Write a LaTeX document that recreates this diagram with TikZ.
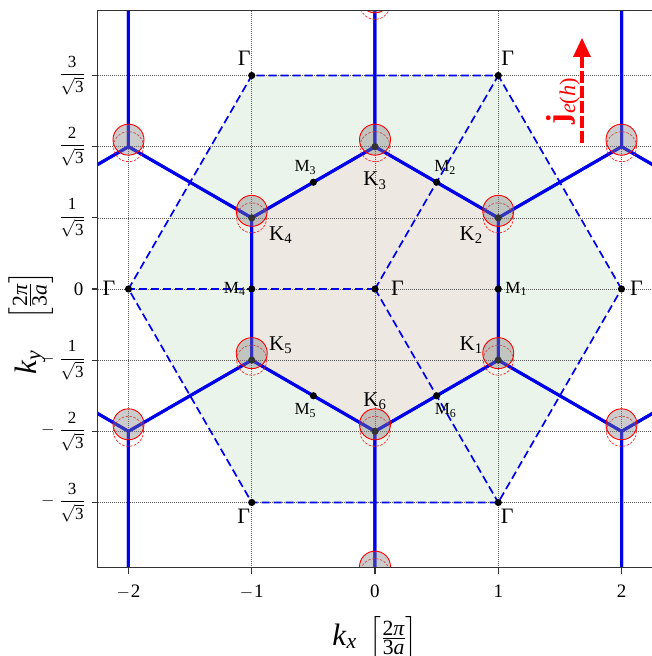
\documentclass[tikz,border=0pt]{standalone}
\usepackage{fontspec}
\setmainfont{Liberation Serif}
\usepackage{amsmath}
\usetikzlibrary{arrows.meta}
\definecolor{bzblue}{RGB}{0,0,235}
\definecolor{bzgreen}{RGB}{235,244,235}
\definecolor{bzbeige}{RGB}{237,232,226}
\begin{document}
\begin{tikzpicture}[x=123.25pt,y=123.25pt,
  honey/.style={bzblue, line width=3pt, line join=round},
  bzdash/.style={bzblue, line width=1.7pt, dash pattern=on 8pt off 4pt},
  gridl/.style={black!65, line width=0.5pt, dash pattern=on 1pt off 1pt},
  spine/.style={black!80, line width=1.2pt},
  pdot/.style={black},
  glab/.style={font=\fontsize{22}{24}\selectfont, inner sep=0pt},
  klab/.style={font=\fontsize{21}{24}\selectfont, inner sep=0pt},
  mlab/.style={font=\fontsize{17}{20}\selectfont, inner sep=0pt},
  tlab/.style={font=\fontsize{19}{22}\selectfont, inner sep=0pt},
  ylab/.style={font=\fontsize{17}{20}\selectfont, inner sep=0pt, anchor=east},
  axlab/.style={font=\fontsize{31}{34}\selectfont, inner sep=0pt},
  kcirc/.style={draw=red, line width=0.9pt, fill=black!50, fill opacity=0.4},
  kdash/.style={draw=red!85, line width=0.7pt, dash pattern=on 2.5pt off 1.5pt},
]
\def\s{1.7320508}
\def\r{0.5773503}
\useasboundingbox (-375pt,-367pt) rectangle (277pt,289pt);
% named points
\coordinate (G0) at (0,0);
\coordinate (G1) at (2,0);
\coordinate (G2) at (1,\s);
\coordinate (G3) at (-1,\s);
\coordinate (G4) at (-2,0);
\coordinate (G5) at (-1,-\s);
\coordinate (G6) at (1,-\s);
\coordinate (K1) at (1,-\r);
\coordinate (K2) at (1,\r);
\coordinate (K3) at (0,2*\r);
\coordinate (K4) at (-1,\r);
\coordinate (K5) at (-1,-\r);
\coordinate (K6) at (0,-2*\r);
\coordinate (KA) at (2,2*\r);
\coordinate (KB) at (0,4*\r);
\coordinate (KC) at (-2,2*\r);
\coordinate (KD) at (-2,-2*\r);
\coordinate (KE) at (0,-4*\r);
\coordinate (KF) at (2,-2*\r);
\coordinate (M1) at (1,0);
\coordinate (M2) at (0.5,\s/2);
\coordinate (M3) at (-0.5,\s/2);
\coordinate (M4) at (-1,0);
\coordinate (M5) at (-0.5,-\s/2);
\coordinate (M6) at (0.5,-\s/2);
\begin{scope}
\clip (-2.25,-2.26) rectangle (2.255,2.26);
\fill[bzgreen] (G1) -- (G2) -- (G3) -- (G4) -- (G5) -- (G6) -- cycle;
\fill[bzbeige] (K1) -- (K2) -- (K3) -- (K4) -- (K5) -- (K6) -- cycle;
\foreach \gx in {-2,...,2} \draw[gridl] (\gx,-2.26) -- (\gx,2.26);
\foreach \gy in {-3,...,3} \draw[gridl] (-2.25,\gy*\r) -- (2.255,\gy*\r);
\draw[bzdash] (G1) -- (G2) -- (G3) -- (G4) -- (G5) -- (G6) -- cycle;
\draw[bzdash] (G0) -- (G4);
\draw[bzdash] (G0) -- (G2);
\draw[bzdash] (G0) -- (G6);
\foreach \cx/\cy in {0/0, 2/0, -2/0, 4/0, -4/0, 1/1, -1/1, 3/1, -3/1, 1/-1, -1/-1, 3/-1, -3/-1, 0/2, 2/2, -2/2, 0/-2, 2/-2, -2/-2} {
  \draw[honey] ({\cx+1},{\cy*\s+\r}) -- (\cx,{\cy*\s+2*\r}) -- ({\cx-1},{\cy*\s+\r}) -- ({\cx-1},{\cy*\s-\r}) -- (\cx,{\cy*\s-2*\r}) -- ({\cx+1},{\cy*\s-\r}) -- cycle;
}
\foreach \p in {G0,G1,G2,G3,G4,G5,G6,K1,K2,K3,K4,K5,K6,M1,M2,M3,M4,M5,M6}
  \fill[pdot] (\p) circle[radius=3.6pt];
\foreach \k in {K1,K2,K3,K4,K5,K6,KA,KB,KC,KD,KE,KF} {
  \draw[kdash] (\k) circle[radius=15pt];
  \filldraw[kcirc] ([yshift=7pt]\k) circle[radius=15.5pt];
}
\end{scope}
% spines and ticks
\draw[spine] (2.255,2.26) -- (-2.25,2.26) -- (-2.25,-2.26) -- (2.255,-2.26) -- cycle;
\foreach \gx in {-2,...,2} \draw[spine] (\gx,-2.26) -- ++(0,-6pt);
\foreach \gy in {-3,...,3} \draw[spine] (-2.25,\gy*\r) -- ++(-6pt,0);
% x tick labels
\node[tlab,anchor=north] (xt1) at ([yshift=-17.5pt]-2,-2.26) {\(-\)\kern1pt 2};
\node[tlab,anchor=north] (xt2) at ([yshift=-17.5pt]-1,-2.26) {\(-\)\kern1pt 1};
\node[tlab,anchor=north] (xt3) at ([yshift=-17.5pt]0,-2.26) {0};
\node[tlab,anchor=north] (xt4) at ([yshift=-17.5pt]1,-2.26) {1};
\node[tlab,anchor=north] (xt5) at ([yshift=-17.5pt]2,-2.26) {2};
% y tick labels
\node[ylab] (yt1) at ([xshift=-12.7pt]-2.25,3*\r) {\(\dfrac{\text{3}}{\sqrt{\text{3}}}\)};
\node[ylab] (yt2) at ([xshift=-12.7pt]-2.25,2*\r) {\(\dfrac{\text{2}}{\sqrt{\text{3}}}\)};
\node[ylab] (yt3) at ([xshift=-12.7pt]-2.25,\r) {\(\dfrac{\text{1}}{\sqrt{\text{3}}}\)};
\node[ylab,font=\fontsize{19}{22}\selectfont] (yt4) at ([xshift=-14pt]-2.25,0) {0};
\node[ylab] (yt5) at ([xshift=-12.7pt]-2.25,-\r) {\(-\;\dfrac{\text{1}}{\sqrt{\text{3}}}\)};
\node[ylab] (yt6) at ([xshift=-12.7pt]-2.25,-2*\r) {\(-\;\dfrac{\text{2}}{\sqrt{\text{3}}}\)};
\node[ylab] (yt7) at ([xshift=-12.7pt]-2.25,-3*\r) {\(-\;\dfrac{\text{3}}{\sqrt{\text{3}}}\)};
% axis labels
\node[axlab,anchor=base] (xl) at (0pt,-356pt) {\textit{k}\textsubscript{\textit{x}}\,\ \(\left[\frac{\text{2\textit{π}}}{\text{3\textit{a}}}\right]\)};
\node[axlab,anchor=base,rotate=90] (yl) at (-338pt,-34pt) {\textit{k}\textsubscript{\textit{y}}\quad\(\left[\frac{\text{2\textit{π}}}{\text{3\textit{a}}}\right]\)};
% Gamma labels
\node[glab] (lG3) at ([shift={(-7.5pt,17pt)}]G3) {Γ};
\node[glab] (lG2) at ([shift={(9.5pt,17pt)}]G2) {Γ};
\node[glab] (lG4) at ([shift={(-19.5pt,1pt)}]G4) {Γ};
\node[glab] (lG0) at ([shift={(22.5pt,1pt)}]G0) {Γ};
\node[glab] (lG1) at ([shift={(15pt,1pt)}]G1) {Γ};
\node[glab] (lG5) at ([shift={(-8pt,-14pt)}]G5) {Γ};
\node[glab] (lG6) at ([shift={(9pt,-14pt)}]G6) {Γ};
% K labels
\node[klab] (lK3) at ([shift={(0pt,-34pt)}]K3) {K\textsubscript{3}};
\node[klab] (lK4) at ([shift={(29pt,-17pt)}]K4) {K\textsubscript{4}};
\node[klab] (lK2) at ([shift={(-27pt,-17pt)}]K2) {K\textsubscript{2}};
\node[klab] (lK5) at ([shift={(29pt,15pt)}]K5) {K\textsubscript{5}};
\node[klab] (lK1) at ([shift={(-27pt,15pt)}]K1) {K\textsubscript{1}};
\node[klab] (lK6) at ([shift={(0pt,30pt)}]K6) {K\textsubscript{6}};
% M labels
\node[mlab] (lM3) at ([shift={(-8pt,15pt)}]M3) {M\textsubscript{3}};
\node[mlab] (lM2) at ([shift={(8.5pt,15pt)}]M2) {M\textsubscript{2}};
\node[mlab] (lM4) at ([shift={(-17pt,0pt)}]M4) {M\textsubscript{4}};
\node[mlab] (lM1) at ([shift={(18pt,0pt)}]M1) {M\textsubscript{1}};
\node[mlab] (lM5) at ([shift={(-8pt,-15pt)}]M5) {M\textsubscript{5}};
\node[mlab] (lM6) at ([shift={(9pt,-15pt)}]M6) {M\textsubscript{6}};
% current arrow
\coordinate (ja) at (207pt,146pt);
\coordinate (jb) at (207pt,251pt);
\draw[red, line width=4pt, dash pattern=on 11.7pt off 3.3pt, -{Triangle[length=19pt,width=18pt,line width=0pt]}] (ja) -- (jb);
\node[font=\fontsize{32}{34}\selectfont, text=red, inner sep=0pt, rotate=90] (jl) at (188pt,188pt) {\textbf{j}\textsubscript{\textit{e}(\textit{h})}};
\end{tikzpicture}
\end{document}
